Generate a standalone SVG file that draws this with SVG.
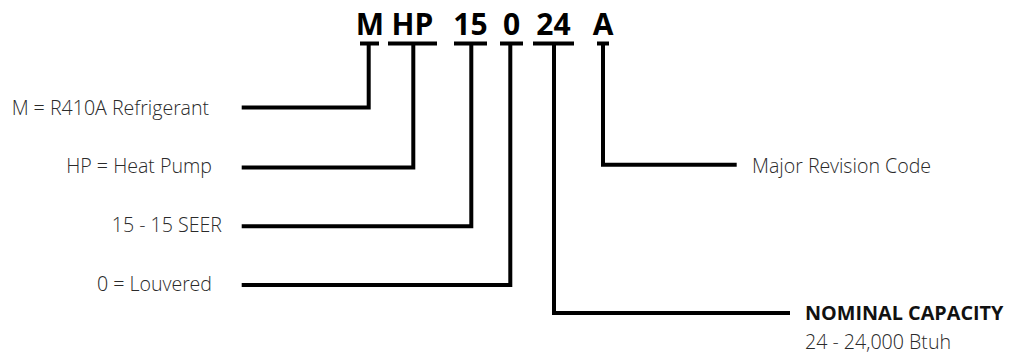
<svg xmlns="http://www.w3.org/2000/svg" width="1010" height="359" viewBox="0 0 1010 359">
<style>
.code{font-family:"Open Sans","Liberation Sans",sans-serif;font-weight:700;font-size:30px;fill:#000;text-anchor:middle}
.lbl{font-family:"Open Sans Light","Open Sans","Liberation Sans",sans-serif;font-weight:300;font-size:19.6px;fill:#2a2a2a}
.lblb{font-family:"Open Sans","Liberation Sans",sans-serif;font-weight:700;font-size:19.8px;fill:#111}
.bar{stroke:#000;stroke-width:4;fill:none}
.ln{stroke:#000;stroke-width:4;fill:none;stroke-linejoin:miter}
</style>
<rect width="1010" height="359" fill="#fff"/>
<g id="code">
<text class="code" x="370" y="35">M</text>
<text class="code" x="412.5" y="35">HP</text>
<text class="code" x="470.5" y="35">15</text>
<text class="code" x="511.5" y="35">0</text>
<text class="code" x="553.5" y="35">24</text>
<text class="code" x="603" y="35">A</text>
<line class="bar" x1="360" y1="43.5" x2="379" y2="43.5"/>
<line class="bar" x1="388" y1="43.5" x2="437" y2="43.5"/>
<line class="bar" x1="454" y1="43.5" x2="487" y2="43.5"/>
<line class="bar" x1="500" y1="43.5" x2="523" y2="43.5"/>
<line class="bar" x1="533" y1="43.5" x2="574" y2="43.5"/>
<line class="bar" x1="597" y1="43.5" x2="609" y2="43.5"/>
</g>
<g id="n-m"><text class="lbl" x="209" y="115" text-anchor="end">M = R410A Refrigerant</text></g>
<g id="n-hp"><text class="lbl" x="212" y="173.3" text-anchor="end">HP = Heat Pump</text></g>
<g id="n-15"><text class="lbl" x="222" y="231.7" text-anchor="end">15 - 15 SEER</text></g>
<g id="n-0"><text class="lbl" x="212" y="290.7" text-anchor="end">0 = Louvered</text></g>
<g id="n-a"><text class="lbl" x="752" y="173.3">Major Revision Code</text></g>
<g id="n-24"><text class="lblb" x="805" y="320">NOMINAL CAPACITY</text><text class="lbl" x="805" y="349.3">24 - 24,000 Btuh</text></g>
<g id="connectors">
<polyline class="ln" points="241.7,107.5 368.7,107.5 368.7,43.5"/>
<polyline class="ln" points="241.7,167.5 413.3,167.5 413.3,43.5"/>
<polyline class="ln" points="241.7,226.3 471.3,226.3 471.3,43.5"/>
<polyline class="ln" points="241.7,285 510.3,285 510.3,43.5"/>
<polyline class="ln" points="790,313 554,313 554,43.5"/>
<polyline class="ln" points="736.7,164.7 603,164.7 603,43.5"/>
</g>
</svg>
